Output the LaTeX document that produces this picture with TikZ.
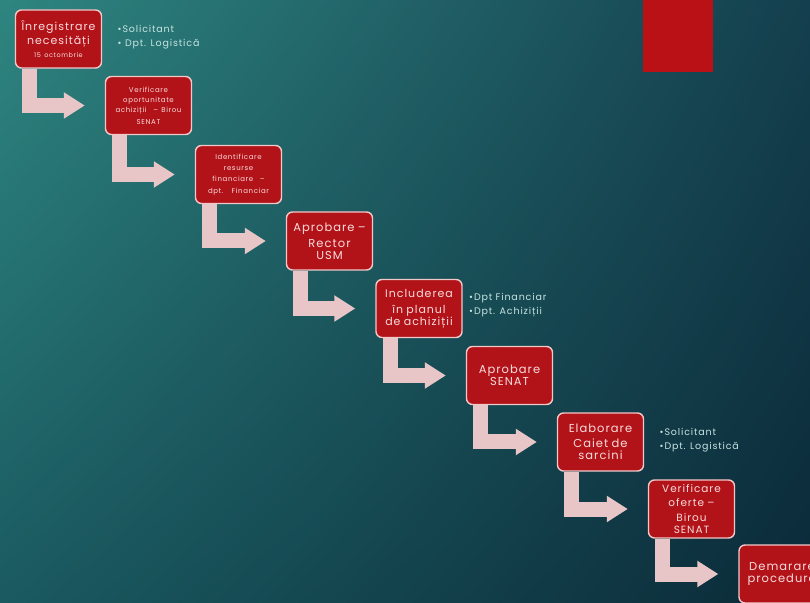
\documentclass[tikz,border=0pt]{standalone}
\usepackage{fontspec}
\setmainfont{Poppins}
\newfontfamily\pasfont[LetterSpace=9]{Poppins}
\usetikzlibrary{arrows.meta,shadings}
\definecolor{rosu}{HTML}{B21319}
\definecolor{margine}{HTML}{F0C8C8}
\definecolor{scris}{HTML}{F8DCDC}
\definecolor{roz}{HTML}{E8C6C8}
\definecolor{lista}{HTML}{C8E4E2}
\definecolor{fundalA}{HTML}{2E8580}
\definecolor{fundalB}{HTML}{143F4E}
\definecolor{fundalC}{HTML}{1A5A60}
\definecolor{fundalD}{HTML}{0B2A38}

\tikzset{
  pas/.style={draw=margine, line width=1.4pt, fill=rosu, rounded corners=6pt,
    minimum width=86pt, minimum height=58pt, text width=84pt, inner sep=1pt,
    align=center, text=scris},
  sageata/.style={draw=roz, line width=15pt, -{Triangle[width=25pt,length=21pt]},
    shorten >=20pt},
  bulina/.style={anchor=west, align=left, text=lista,
    font=\pasfont\fontsize{9.5}{14}\selectfont}
}

\begin{document}
\begin{tikzpicture}[x=1pt,y=1pt]
\clip (0,0) rectangle (810,602);
% fundal
\shade[upper left=fundalA, upper right=fundalB, lower left=fundalC,
  lower right=fundalD] (0,0) rectangle (810,602);
\fill[rosu!90!red] (643,530) rectangle (713,602);

% pasii
\node[pas] (b1) at (58.5,563) {\pasfont\fontsize{11}{14}\selectfont Înregistrare\\ necesități\\[1pt]{\fontsize{6.5}{7}\selectfont 15 octombrie}};
\node[pas] (b2) at (148.5,496.5) {\pasfont\fontsize{7}{10}\selectfont Verificare\\ oportunitate\\ achiziții \ – Birou\\ SENAT};
\node[pas] (b3) at (238.5,427.5) {\pasfont\fontsize{7}{11}\selectfont Identificare\\ resurse\\ financiare \ –\\ dpt. \ Financiar};
\node[pas] (b4) at (329.5,361) {\pasfont\fontsize{11.5}{16}\selectfont Aprobare –\\ Rector\\ USM};
\node[pas] (b5) at (419,293.5) {\pasfont\fontsize{11}{16}\selectfont Includerea\\ în planul\\ de achiziții};
\node[pas] (b6) at (509.5,226.5) {\pasfont\fontsize{11.5}{16}\selectfont Aprobare\\ SENAT};
\node[pas] (b7) at (600.5,160) {\pasfont\fontsize{11.5}{15.5}\selectfont Elaborare\\ Caiet de\\ sarcini};
\node[pas] (b8) at (691.5,93) {\pasfont\fontsize{10.5}{14.5}\selectfont Verificare\\ oferte –\\ Birou\\ SENAT};
\node[pas] (b9) at (782,28) {\pasfont\fontsize{11.5}{14}\selectfont Demarare\\ procedură};

% responsabili
\node[bulina] (r1) at (b1.east) [xshift=12pt,yshift=2pt] {•Solicitant\\• Dpt. Logistică};
\node[bulina] (r5) at (b5.east) [xshift=3pt,yshift=3pt] {•Dpt Financiar\\•Dpt. Achiziții};
\node[bulina] (r7) at (b7.east) [xshift=12pt,yshift=2pt] {•Solicitant\\•Dpt. Logistică};

% sagetile
\foreach \a/\b in {b1/b2,b2/b3,b3/b4,b4/b5,b5/b6,b6/b7,b7/b8,b8/b9}
  \draw[sageata] ([xshift=15pt]\a.south west) |- (\b.west);
\end{tikzpicture}
\end{document}
